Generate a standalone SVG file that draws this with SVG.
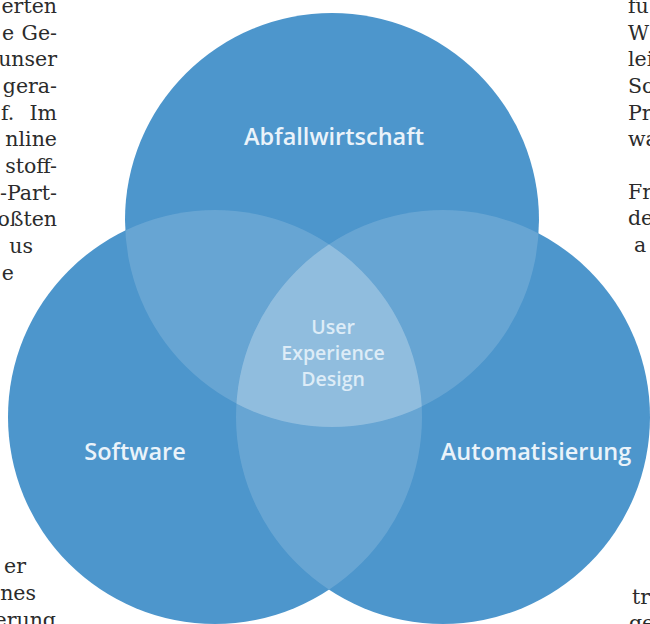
<svg xmlns="http://www.w3.org/2000/svg" width="650" height="624" viewBox="0 0 650 624">
  <style>
    .body { font-family: "DejaVu Serif", "Liberation Serif", serif; font-size: 20.5px; fill: #2b2b2b; }
    .end { text-anchor: end; }
    .label { font-family: "Open Sans", "Liberation Sans", sans-serif; font-weight: 600; font-size: 23.5px; fill: #eaf3fa; text-anchor: middle; }
    .core { font-family: "Open Sans", "Liberation Sans", sans-serif; font-weight: 600; font-size: 19.5px; fill: #ddecf7; text-anchor: middle; }
    .disc { fill: #4d96cc; }
    .lens { fill: #ffffff; fill-opacity: 0.15; }
  </style>
  <defs>
    <circle id="cTop" cx="332" cy="220" r="207"/>
    <circle id="cLeft" cx="215" cy="417" r="207"/>
    <circle id="cRight" cx="443" cy="417" r="207"/>
    <clipPath id="clipLeft"><use href="#cLeft"/></clipPath>
    <clipPath id="clipRight"><use href="#cRight"/></clipPath>
  </defs>

  <rect width="650" height="624" fill="#ffffff"/>

  <!-- surrounding column text, cut by the page edges -->
  <g id="column-left" class="body end">
    <text x="57" y="13">erten</text>
    <text y="40"><tspan x="2" text-anchor="start">e</tspan><tspan x="57" text-anchor="end">Ge-</tspan></text>
    <text x="57" y="66">unser</text>
    <text x="57" y="93">gera-</text>
    <text y="120"><tspan x="1" text-anchor="start">f.</tspan><tspan x="57" text-anchor="end">Im</tspan></text>
    <text x="57" y="146">nline</text>
    <text x="57" y="173">stoff-</text>
    <text x="57" y="200">-Part-</text>
    <text x="57" y="226">oßten</text>
    <text x="33" y="253">us</text>
    <text x="14" y="280">e</text>
    <text x="26" y="573">er</text>
    <text x="36" y="600">nes</text>
    <text x="56" y="627">erung</text>
  </g>
  <g id="column-right" class="body">
    <text x="628" y="13">fu</text>
    <text x="628" y="40">W</text>
    <text x="628" y="66">lei</text>
    <text x="628" y="93">So</text>
    <text x="628" y="120">Pr</text>
    <text x="628" y="146">wa</text>
    <text x="628" y="199">Fr</text>
    <text x="628" y="225">de</text>
    <text x="634" y="252">a</text>
    <text x="632" y="604">tr</text>
    <text x="629" y="630">ge</text>
  </g>

  <!-- three discs -->
  <g id="abfallwirtschaft">
    <use href="#cTop" class="disc"/>
  </g>
  <g id="software">
    <use href="#cLeft" class="disc"/>
  </g>
  <g id="automatisierung">
    <use href="#cRight" class="disc"/>
  </g>

  <!-- lighter overlaps -->
  <g id="overlaps">
    <use href="#cTop" class="lens" clip-path="url(#clipLeft)"/>
    <use href="#cTop" class="lens" clip-path="url(#clipRight)"/>
    <use href="#cLeft" class="lens" clip-path="url(#clipRight)"/>
  </g>

  <g id="labels">
    <text class="label" x="334" y="145">Abfallwirtschaft</text>
    <text class="label" x="135" y="460">Software</text>
    <text class="label" x="536" y="460">Automatisierung</text>
  </g>
  <g id="ux-design">
    <text class="core" x="333" y="334">User</text>
    <text class="core" x="333" y="360">Experience</text>
    <text class="core" x="333" y="386">Design</text>
  </g>
</svg>
